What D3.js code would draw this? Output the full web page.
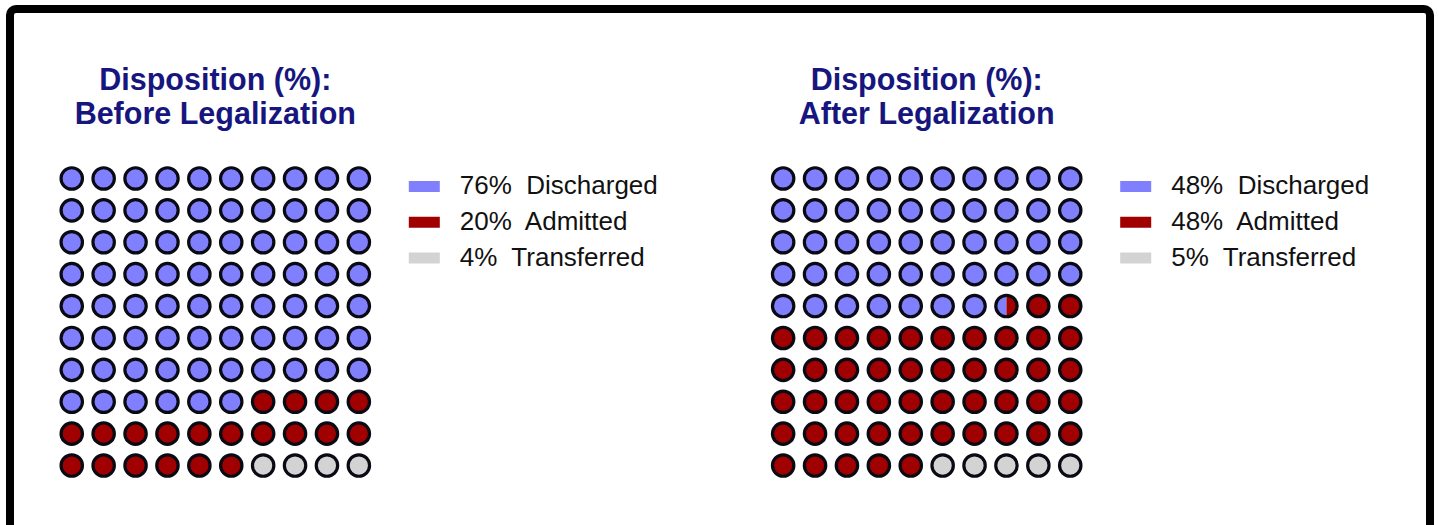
<!DOCTYPE html>
<html>
<head>
<meta charset="utf-8">
<script src="https://cdn.jsdelivr.net/npm/d3@7"></script>
<style>
  html, body { margin: 0; padding: 0; background: #fff; }
  svg { display: block; }
  text { font-family: "Liberation Sans", Arial, sans-serif; }
</style>
</head>
<body>
<svg id="chart" width="1439" height="525"></svg>
<script>
// ---- data ----
const categories = ["Discharged", "Admitted", "Transferred"];
const beforeValues = [76, 20, 4];
const afterValues = [47.5, 47.5, 5];
const beforeLabels = ["76%", "20%", "4%"];
const afterLabels = ["48%", "48%", "5%"];
const titleLine1 = "Disposition (%):";
const beforeTitle2 = "Before Legalization";
const afterTitle2 = "After Legalization";
const colors = ["#8080ff", "#a00000", "#d3d3d3"];

const svg = d3.select("#chart");

// frame
svg.append("rect")
  .attr("x", 10).attr("y", 9)
  .attr("width", 1420).attr("height", 640)
  .attr("rx", 6)
  .attr("fill", "none").attr("stroke", "#000").attr("stroke-width", 8);

const defs = svg.append("defs");
const color = d3.scaleOrdinal().domain(categories).range(colors);

function waffle(id, values, labels, title2, x0) {
  const g = svg.append("g");
  const step = 31.9;
  const idx = d3.range(10);
  const xs = d3.scaleBand().domain(idx).range([x0, x0 + step * 10]);
  const ys = d3.scaleBand().domain(idx).range([162.5, 162.5 + step * 10]);
  const r = 10.7;

  // cumulative boundaries
  const cum = [0];
  values.forEach(v => cum.push(cum[cum.length - 1] + v));

  const cells = d3.range(100).map(i => {
    const row = Math.floor(i / 10), col = i % 10;
    const segs = [];
    values.forEach((v, k) => {
      const a = Math.max(i, cum[k]), b = Math.min(i + 1, cum[k + 1]);
      if (b > a) segs.push({ k, a: a - i, b: b - i });
    });
    return { i, row, col, segs };
  });

  const cx = d => xs(d.col) + xs.bandwidth() / 2;
  const cy = d => ys(d.row) + ys.bandwidth() / 2;

  const cg = g.selectAll("g.cell").data(cells).join("g").attr("class", "cell");
  cg.each(function(d) {
    const sel = d3.select(this);
    d.segs.forEach((s, j) => {
      let clip = null;
      if (s.a > 0 || s.b < 1) {
        const cid = `${id}-clip-${d.i}-${j}`;
        defs.append("clipPath").attr("id", cid)
          .append("rect")
          .attr("x", cx(d) - r + 2 * r * s.a)
          .attr("y", cy(d) - r)
          .attr("width", 2 * r * (s.b - s.a))
          .attr("height", 2 * r);
        clip = `url(#${cid})`;
      }
      sel.append("circle")
        .attr("cx", cx(d)).attr("cy", cy(d)).attr("r", r)
        .attr("fill", color(categories[s.k]))
        .attr("clip-path", clip);
    });
    sel.append("circle")
      .attr("cx", cx(d)).attr("cy", cy(d)).attr("r", r)
      .attr("fill", "none").attr("stroke", "#0a0a14").attr("stroke-width", 3.2);
  });

  // title
  const tcx = x0 + step * 5;
  g.append("text").attr("x", tcx).attr("y", 89.5)
    .attr("text-anchor", "middle").attr("font-size", 30.5).attr("font-weight", "bold")
    .attr("fill", "#16167e").text(titleLine1);
  g.append("text").attr("x", tcx).attr("y", 123.5)
    .attr("text-anchor", "middle").attr("font-size", 30.5).attr("font-weight", "bold")
    .attr("fill", "#16167e").text(title2);

  // legend
  const ly = d3.scalePoint().domain(categories).range([186.5, 258]);
  const lx = x0 + 353;
  const lg = g.selectAll("g.leg").data(categories).join("g").attr("class", "leg");
  lg.append("rect")
    .attr("x", lx).attr("y", d => ly(d) - 5.5)
    .attr("width", 31).attr("height", 11)
    .attr("fill", d => color(d));
  lg.append("text")
    .attr("x", lx + 51).attr("y", d => ly(d) + 7.5)
    .attr("font-size", 26).attr("fill", "#111")
    .attr("xml:space", "preserve").style("white-space", "pre")
    .text((d, k) => labels[k] + "  " + d);
}

waffle("before", beforeValues, beforeLabels, beforeTitle2, 55.8);
waffle("after", afterValues, afterLabels, afterTitle2, 767.2);
</script>
</body>
</html>
